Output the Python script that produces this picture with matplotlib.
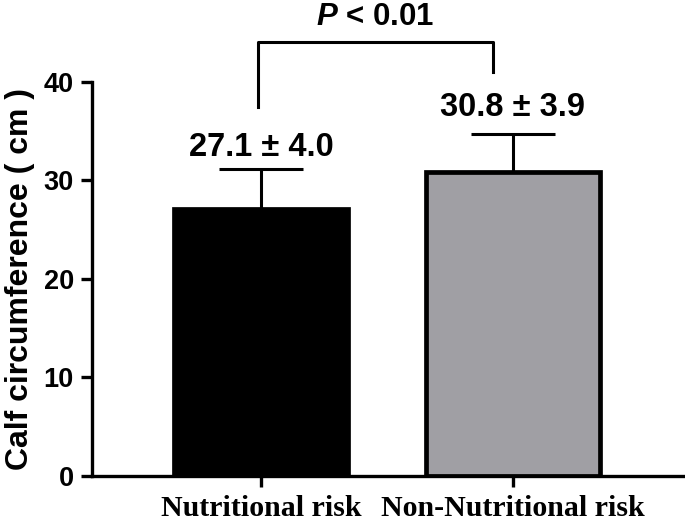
import matplotlib
matplotlib.use("Agg")
import matplotlib.pyplot as plt

groups = ["Nutritional risk", "Non-Nutritional risk"]
means = [27.1, 30.8]
sds = [4.0, 3.9]
value_labels = ["27.1 ± 4.0", "30.8 ± 3.9"]
bar_colors = ["#000000", "#a09fa4"]
y_ticks = [0, 10, 20, 30, 40]
p_text = "$P$ < 0.01"

plt.rcParams["mathtext.fontset"] = "custom"
plt.rcParams["mathtext.it"] = "Liberation Sans:bold:italic"
plt.rcParams["mathtext.rm"] = "Liberation Sans:bold"

sans = "Liberation Sans"

fig = plt.figure(figsize=(6.85, 5.23), dpi=100)
ax = fig.add_axes([92 / 685, 47 / 523, 593 / 685, 394.3 / 523])

x = list(range(len(groups)))
ax.bar(x, means, width=0.69, color=bar_colors, edgecolor="black", linewidth=3.4, zorder=2)
ax.errorbar(x, means, yerr=[[0, 0], sds], fmt="none", ecolor="black",
            elinewidth=2.2, capsize=30, capthick=2.2, zorder=1)

ax.set_xlim(-0.671, 1.683)
ax.set_ylim(0, 40)
ax.set_yticks(y_ticks)
ax.set_xticks(x)
ax.set_xticklabels(groups, family="Liberation Serif", fontweight="bold", fontsize=21.5)
for lab in ax.get_yticklabels():
    lab.set_family(sans)
    lab.set_fontweight("bold")
    lab.set_fontsize(19.5)

for side in ["top", "right"]:
    ax.spines[side].set_visible(False)
for side in ["left", "bottom"]:
    ax.spines[side].set_linewidth(2.4)
ax.tick_params(axis="both", width=2.4, length=8)
ax.tick_params(axis="y", pad=5)
ax.tick_params(axis="x", pad=5.5)

ax.set_ylabel("Calf circumference ( cm )", family=sans, fontweight="bold",
              fontsize=23, labelpad=6)

label_y = [32.5, 36.5]
for xi, txt, ly in zip(x, value_labels, label_y):
    ax.text(xi, ly, txt, ha="center", va="baseline", family=sans,
            fontweight="bold", fontsize=23.5, clip_on=False)

# significance bracket
bx = [-0.012, -0.012, 0.92, 0.92]
by = [37.4, 44.0, 44.0, 41.0]
ax.plot(bx, by, color="black", linewidth=2.2, clip_on=False)
ax.text(0.454, 45.8, p_text, ha="center", va="baseline", family=sans,
        fontweight="bold", fontsize=22.5, clip_on=False)

fig.savefig("out.png", dpi=100)
